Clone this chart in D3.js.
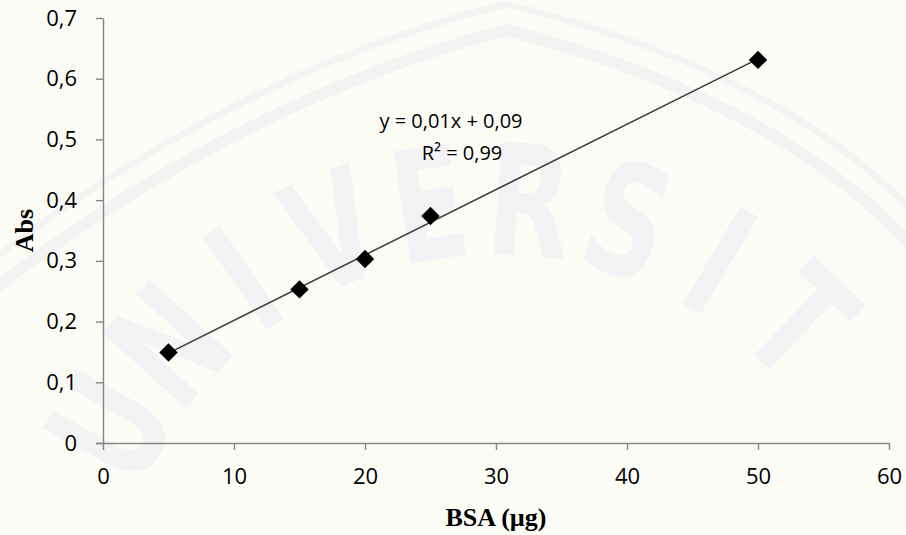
<!DOCTYPE html>
<html>
<head>
<meta charset="utf-8">
<script src="https://cdn.jsdelivr.net/npm/d3@7"></script>
<style>
  body { margin: 0; background: #fcfcf7; }
  svg { display: block; }
  .tick text { font-family: "Open Sans", "Noto Sans", sans-serif; font-size: 22px; fill: #000; }
</style>
</head>
<body>
<div id="chart"></div>
<script>
// BSA standard curve
const bsa = [5, 15, 20, 25, 50];
const abs = [0.149, 0.253, 0.303, 0.374, 0.631];
const xTicks = [0, 10, 20, 30, 40, 50, 60];
const yTicks = [0, 0.1, 0.2, 0.3, 0.4, 0.5, 0.6, 0.7];
const equation = ["y = 0,01x + 0,09", "R² = 0,99"];
const watermark = "UNIVERSIT".split("");

const width = 906, height = 535;
const margin = {top: 18, right: 17, bottom: 92, left: 103};

const svg = d3.select("#chart")
  .append("svg")
    .attr("width", width)
    .attr("height", height);

// faint background watermark (logo arch + lettering)
const wm = svg.append("g").attr("class", "watermark");
wm.append("path")
    .attr("d", "M-10,262 Q240,70 506,4 Q780,70 916,215")
    .attr("fill", "none")
    .attr("stroke", "#f4f4f4")
    .attr("stroke-width", 7);
wm.append("path")
    .attr("d", "M-10,292 Q240,100 506,30 Q780,100 916,250")
    .attr("fill", "none")
    .attr("stroke", "#f3f3f4")
    .attr("stroke-width", 12);
const cx = 495, cy = 640, r = 385, a0 = -61, step = 13.1;
wm.selectAll("text")
  .data(watermark)
  .enter()
  .append("text")
    .attr("transform", (d, i) => {
      const a = a0 + i * step;
      const rad = a * Math.PI / 180;
      return `translate(${cx + r * Math.sin(rad)},${cy - r * Math.cos(rad)}) rotate(${a}) scale(0.7,1)`;
    })
    .attr("text-anchor", "middle")
    .style("font-family", "'DejaVu Sans', sans-serif")
    .style("font-weight", "bold")
    .style("font-size", "155px")
    .attr("fill", "#f3f3f5")
    .text(d => d);

const xScale = d3.scaleLinear()
  .domain([0, 60])
  .range([margin.left, width - margin.right]);
const yScale = d3.scaleLinear()
  .domain([0, 0.7])
  .range([height - margin.bottom, margin.top]);

const comma = d => String(d).replace(".", ",");

const xAxis = d3.axisBottom(xScale).tickValues(xTicks).tickSize(7).tickSizeOuter(0).tickPadding(18).tickFormat(comma);
const yAxis = d3.axisLeft(yScale).tickValues(yTicks).tickSize(7).tickSizeOuter(0).tickPadding(19).tickFormat(comma);

svg.append("g")
    .attr("class", "y-axis")
    .attr("transform", `translate(${margin.left},0)`)
    .call(yAxis)
    .call(g => g.selectAll("line, path").attr("stroke", "#868686").attr("stroke-width", 1.4));

svg.append("g")
    .attr("class", "x-axis")
    .attr("transform", `translate(0,${yScale(0)})`)
    .call(xAxis)
    .call(g => g.selectAll("line, path").attr("stroke", "#868686").attr("stroke-width", 1.4))
    .call(g => g.select(".domain").attr("d", `M${margin.left - 7},0.5H${xScale(60)}`));

// linear trendline (least squares)
const mx = d3.mean(bsa), my = d3.mean(abs);
const slope = d3.sum(bsa, (x, i) => (x - mx) * (abs[i] - my)) / d3.sum(bsa, x => (x - mx) ** 2);
const intercept = my - slope * mx;
const xr = d3.extent(bsa);

svg.append("line")
    .attr("x1", xScale(xr[0])).attr("y1", yScale(slope * xr[0] + intercept))
    .attr("x2", xScale(xr[1])).attr("y2", yScale(slope * xr[1] + intercept))
    .attr("stroke", "#3a3a3a")
    .attr("stroke-width", 1.5);

svg.selectAll(".pt")
  .data(bsa)
  .enter()
  .append("path")
    .attr("class", "pt")
    .attr("d", d3.symbol(d3.symbolSquare, 170))
    .attr("transform", (d, i) => `translate(${xScale(d)},${yScale(abs[i])}) rotate(45)`)
    .attr("fill", "#000");

svg.selectAll(".eq")
  .data(equation)
  .enter()
  .append("text")
    .attr("class", "eq")
    .attr("x", (d, i) => i === 0 ? 451 : 462)
    .attr("y", (d, i) => 128 + i * 32)
    .attr("text-anchor", "middle")
    .style("font-family", "'Open Sans', 'Noto Sans', sans-serif")
    .style("font-size", "20px")
    .text(d => d);

svg.append("text")
    .attr("x", (xScale(0) + xScale(60)) / 2)
    .attr("y", 526)
    .attr("text-anchor", "middle")
    .style("font-family", "'Liberation Serif', 'DejaVu Serif', serif")
    .style("font-weight", "bold")
    .style("font-size", "26px")
    .text("BSA (µg)");

svg.append("text")
    .attr("transform", `translate(33,${yScale(0.35)}) rotate(-90)`)
    .attr("text-anchor", "middle")
    .style("font-family", "'Liberation Serif', 'DejaVu Serif', serif")
    .style("font-weight", "bold")
    .style("font-size", "26px")
    .text("Abs");
</script>
</body>
</html>
